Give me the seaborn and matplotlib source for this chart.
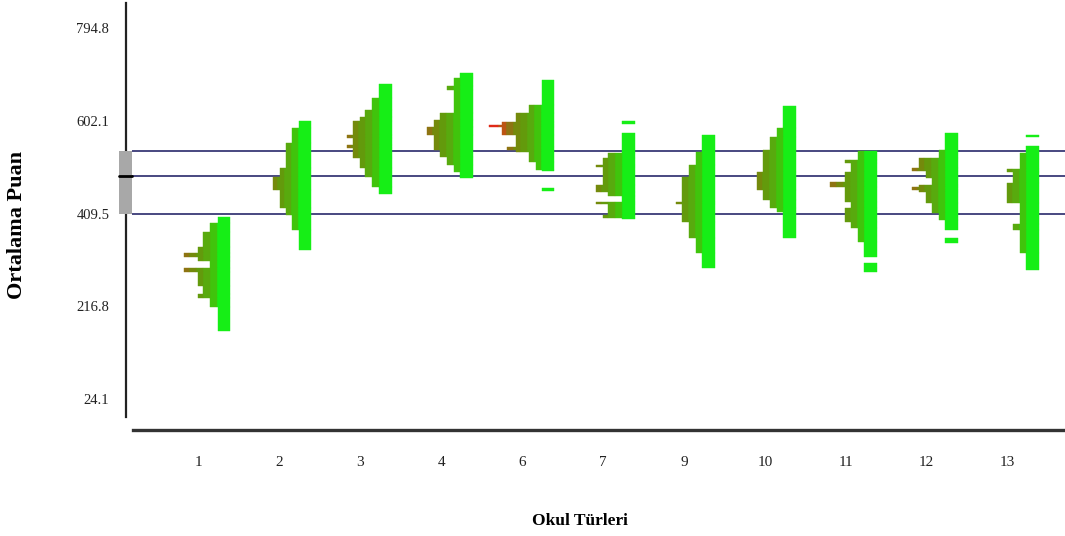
import matplotlib
matplotlib.use("Agg")
import matplotlib.pyplot as plt
import numpy as np
import pandas as pd
import seaborn as sns
from matplotlib.patches import Rectangle

# ---------------- data ----------------
categories = ["1", "2", "3", "4", "6", "7", "9", "10", "11", "12", "13"]
y_ticks = [24.1, 216.8, 409.5, 602.1, 794.8]
ref_lines = [540, 488, 409]          # upper, middle, lower reference levels

# score bin edges (descending) and relative frequency of each bin
g1_edges = [402, 389, 372, 341, 327, 320, 310, 296, 288, 258, 242, 235, 216, 166]
g1_freq = [12, 20, 27, 32, 46, 32, 20, 46, 32, 27, 32, 20, 12]
g2_edges = [603, 587, 556, 504, 486, 459, 421, 407, 375, 334]
g2_freq = [12, 19, 25, 31, 38, 31, 25, 19, 12]
g3_edges = [680, 649, 625, 611, 602, 573, 567, 552, 545, 525, 504, 486, 465, 450]
g3_freq = [13, 20, 27, 32, 39, 45, 39, 45, 39, 32, 27, 20, 13]
g4_edges = [701, 691, 674, 667, 618, 604, 590, 573, 542, 528, 511, 497, 483]
g4_freq = [13, 19, 26, 19, 33, 39, 46, 39, 33, 26, 19, 13]
g6_edges = [687, 635, 618, 601, 594, 590, 573, 549, 542, 538, 517, 500, 498, 463, 457]
g6_freq = [12, 25, 38, 52, 65, 52, 38, 47, 38, 25, 18, 12, 0, 12]
g7_edges = [603, 596, 577, 535, 525, 511, 506, 469, 455, 446, 434, 429, 407, 400, 398]
g7_freq = [13, 0, 13, 27, 32, 39, 32, 39, 27, 13, 39, 27, 32, 13]
g9_edges = [572, 538, 511, 486, 434, 429, 393, 358, 327, 296]
g9_freq = [13, 19, 26, 33, 39, 33, 26, 19, 13]
g10_edges = [634, 587, 569, 542, 497, 459, 438, 421, 412, 359]
g10_freq = [13, 19, 26, 33, 39, 33, 26, 19, 13]
g11_edges = [540, 521, 514, 497, 476, 465, 434, 421, 393, 379, 351, 320, 306, 289]
g11_freq = [19, 32, 26, 32, 47, 32, 26, 32, 26, 19, 13, 0, 13]
g12_edges = [578, 542, 525, 504, 499, 483, 469, 465, 459, 455, 431, 410, 396, 375, 358, 349]
g12_freq = [13, 19, 39, 46, 32, 26, 39, 46, 39, 32, 26, 19, 13, 0, 13]
g13_edges = [573, 568, 550, 535, 502, 497, 473, 431, 388, 375, 327, 292]
g13_freq = [13, 0, 13, 19, 32, 26, 32, 19, 26, 19, 13]

groups = [(g1_edges, g1_freq), (g2_edges, g2_freq), (g3_edges, g3_freq),
          (g4_edges, g4_freq), (g6_edges, g6_freq), (g7_edges, g7_freq),
          (g9_edges, g9_freq), (g10_edges, g10_freq), (g11_edges, g11_freq),
          (g12_edges, g12_freq), (g13_edges, g13_freq)]

rows = []
for ci, (edges, freq) in enumerate(groups):
    for hi, lo, f in zip(edges[:-1], edges[1:], freq):
        rows.append(dict(pos=ci, hi=hi, lo=lo, freq=f))
df = pd.DataFrame(rows)

# ---------------- style ----------------
sns.set_theme(style="white")
plt.rcParams['font.family'] = ['Liberation Serif', 'DejaVu Serif']

W, H = 1065, 536
fig = plt.figure(figsize=(W / 100, H / 100), dpi=100)
ax_left, ax_right, ax_top, ax_bot = 126, 1065, 3, 430
ax = fig.add_axes([ax_left / W, 1 - ax_bot / H, (ax_right - ax_left) / W, (ax_bot - ax_top) / H])

step_px = 80.9            # pixels between categories
first_px = 198.5          # pixel of first category
unit = 1.0 / step_px      # one frequency unit in x units
xl = (ax_left - first_px) / step_px
xr = (ax_right - first_px) / step_px
ax.set_xlim(xl, xr)
ax.set_ylim(-40.4, 847.4)

offset = 31.5 * unit      # right edge of each histogram relative to its tick

bands = [(0, 13, "#16ee16"), (13, 20, "#40c40c"), (20, 27, "#58aa0e"),
         (27, 34, "#639a0c"), (34, 41, "#748a0c"), (41, 48, "#8e7412"),
         (48, 56, "#bc5412"), (56, 80, "#e02a18")]

for r in df.itertuples():
    if r.freq <= 0:
        continue
    right = r.pos + offset
    yc = (r.hi + r.lo) / 2
    h = r.hi - r.lo
    for a, b, col in bands:
        if r.freq <= a:
            break
        e = min(r.freq, b)
        ax.barh(yc, (e - a) * unit, left=right - e * unit, height=h,
                color=col, edgecolor=col, linewidth=0.3, zorder=3)

# reference lines
box_l = (119 - first_px) / step_px
box_r = (131.5 - first_px) / step_px
ax.hlines(ref_lines, box_r, xr, color="#16165e", lw=1.1, zorder=1)
ax.add_patch(Rectangle((box_l, ref_lines[2]), box_r - box_l, ref_lines[0] - ref_lines[2],
                       facecolor="#a8a8a8", edgecolor="none", clip_on=False, zorder=4))
ax.plot([box_l, box_r], [ref_lines[1]] * 2, color="black", lw=2, clip_on=False, zorder=5)

# axes and ticks
ax.set_xticks(range(len(categories)))
ax.set_xticklabels(categories, fontsize=11)
ax.set_yticks(y_ticks)
ax.set_yticklabels([f"{v:.1f}" for v in y_ticks], fontsize=10.5)
ax.tick_params(axis="x", length=0, pad=19, colors="#222222")
ax.tick_params(axis="y", length=0, pad=12, colors="#222222")
ax.grid(False)

for s in ["top", "right"]:
    ax.spines[s].set_visible(False)
ax.spines["left"].set_color("#222222")
ax.spines["left"].set_linewidth(1.6)
ax.spines["left"].set_bounds(-14, 847.4)
ax.spines["bottom"].set_color("#333333")
ax.spines["bottom"].set_linewidth(2.4)
ax.spines["bottom"].set_bounds((133 - first_px) / step_px, xr)

fig.text(580 / W, 1 - 521 / H, "Okul Türleri", ha="center", va="center",
         fontsize=12.5, fontweight="bold", color="black")
fig.text(17 / W, 1 - 225 / H, "Ortalama Puan", ha="center", va="center",
         rotation=90, fontsize=16, fontweight="bold", color="black")

fig.savefig("out.png", dpi=100, facecolor="white")
